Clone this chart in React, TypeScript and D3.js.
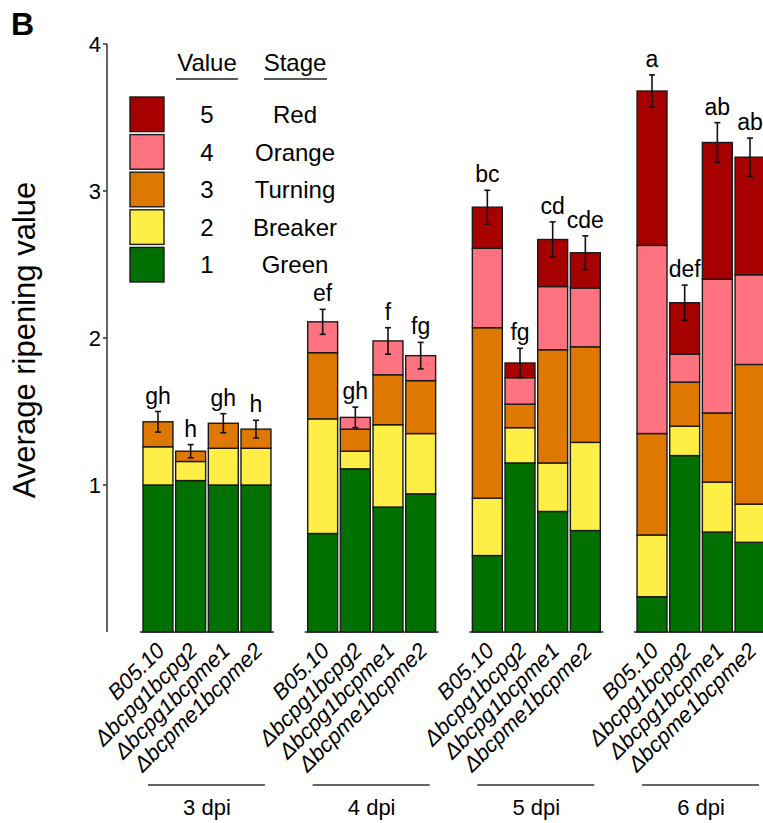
import { useEffect, useRef } from "react"
import * as d3 from "d3"

const days = ["3 dpi", "4 dpi", "5 dpi", "6 dpi"]
const strains = ["B05.10", "Δbcpg1bcpg2", "Δbcpg1bcpme1", "Δbcpme1bcpme2"]
const stages = ["Green", "Breaker", "Turning", "Orange", "Red"]
const stageValues = [1, 2, 3, 4, 5]
const stageColors = ["#007000", "#ffee45", "#df7800", "#ff7381", "#a70000"]

// share of each stage per bar, order: days x strains
const green = [1.0, 1.03, 1.0, 1.0, 0.67, 1.11, 0.85, 0.94, 0.52, 1.15, 0.82, 0.69, 0.24, 1.2, 0.68, 0.61]
const breaker = [0.26, 0.13, 0.25, 0.25, 0.78, 0.12, 0.56, 0.41, 0.39, 0.24, 0.33, 0.6, 0.42, 0.2, 0.34, 0.26]
const turning = [0.17, 0.07, 0.17, 0.13, 0.45, 0.15, 0.34, 0.36, 1.16, 0.16, 0.77, 0.65, 0.69, 0.3, 0.47, 0.95]
const orange = [0, 0, 0, 0, 0.21, 0.08, 0.23, 0.17, 0.54, 0.18, 0.43, 0.4, 1.28, 0.19, 0.91, 0.61]
const red = [0, 0, 0, 0, 0, 0, 0, 0, 0.28, 0.1, 0.32, 0.24, 1.05, 0.35, 0.93, 0.8]
const errors = [0.07, 0.045, 0.065, 0.06, 0.085, 0.07, 0.09, 0.09, 0.115, 0.1, 0.12, 0.115, 0.11, 0.12, 0.135, 0.13]
const letters = ["gh", "h", "gh", "h", "ef", "gh", "f", "fg", "bc", "fg", "cd", "cde", "a", "def", "ab", "ab"]
const yTicks = [1, 2, 3, 4]

const W = 763
const H = 823
const FONT = "'Liberation Sans', Arial, sans-serif"

export default function App() {
  const svgRef = useRef<SVGSVGElement>(null)

  useEffect(() => {
    const svg = d3.select(svgRef.current)
    svg.selectAll("*").remove()

    const y = d3.scaleLinear().domain([0, 4]).range([632, 44])
    const xg = d3.scaleBand().domain(days).range([143, 765]).paddingInner(0.223)
    const xs = d3.scaleBand().domain(strains).range([0, xg.bandwidth()]).paddingInner(0.083)

    const rows = days.flatMap((d, gi) =>
      strains.map((s, si) => {
        const i = gi * strains.length + si
        return {
          day: d, strain: s, i,
          Green: green[i], Breaker: breaker[i], Turning: turning[i], Orange: orange[i], Red: red[i],
        }
      })
    )
    const series = d3.stack<any>().keys(stages)(rows)
    const bx = (r: any) => (xg(r.day) ?? 0) + (xs(r.strain) ?? 0)

    // title
    svg.append("text").attr("x", 11).attr("y", 35).attr("font-size", 32).attr("font-weight", "bold")
      .attr("font-family", FONT).text("B")

    // y axis
    const ax = svg.append("g")
    ax.append("line").attr("x1", 107).attr("x2", 107).attr("y1", y(4)).attr("y2", y(0))
      .attr("stroke", "#333").attr("stroke-width", 1.5)
    ax.selectAll(".tk").data(yTicks).join("line")
      .attr("x1", 103).attr("x2", 107).attr("y1", (d) => y(d)).attr("y2", (d) => y(d))
      .attr("stroke", "#333").attr("stroke-width", 1.5)
    ax.selectAll(".tl").data(yTicks).join("text")
      .attr("x", 101).attr("y", (d) => y(d)).attr("dy", "0.36em").attr("text-anchor", "end")
      .attr("font-size", 22).attr("font-family", FONT).text((d) => d)
    svg.append("text").attr("transform", "translate(35,340) rotate(-90)")
      .attr("text-anchor", "middle").attr("font-size", 31).attr("font-family", FONT)
      .text("Average ripening value")

    // bars
    const bars = svg.append("g")
    series.forEach((s, k) => {
      bars.append("g").selectAll("rect").data(s.filter((d) => d[1] - d[0] > 0)).join("rect")
        .attr("x", (d) => bx(d.data))
        .attr("width", xs.bandwidth())
        .attr("y", (d) => y(d[1]))
        .attr("height", (d) => y(d[0]) - y(d[1]))
        .attr("fill", stageColors[k])
        .attr("stroke", "#1a1a1a").attr("stroke-width", 1.4)
    })

    // baselines under each group
    svg.append("g").selectAll("line").data(days).join("line")
      .attr("x1", (d) => (xg(d) ?? 0) - 3).attr("x2", (d) => (xg(d) ?? 0) + xg.bandwidth() + 3)
      .attr("y1", y(0)).attr("y2", y(0)).attr("stroke", "#222").attr("stroke-width", 1.6)

    // error bars and letters
    const tops = series[series.length - 1]
    const eg = svg.append("g")
    tops.forEach((d) => {
      const r = d.data
      const cx = bx(r) + xs.bandwidth() / 2
      const e = errors[r.i]
      eg.append("line").attr("x1", cx).attr("x2", cx).attr("y1", y(d[1] + e)).attr("y2", y(d[1] - e))
        .attr("stroke", "#111").attr("stroke-width", 1.6)
      ;[d[1] + e, d[1] - e].forEach((v) =>
        eg.append("line").attr("x1", cx - 3).attr("x2", cx + 3).attr("y1", y(v)).attr("y2", y(v))
          .attr("stroke", "#111").attr("stroke-width", 1.6))
      eg.append("text").attr("x", cx).attr("y", y(d[1] + e) - 8).attr("text-anchor", "middle")
        .attr("font-size", 23).attr("font-family", FONT).text(letters[r.i])
    })

    // rotated strain labels
    svg.append("g").selectAll("text").data(rows).join("text")
      .attr("transform", (r) => `translate(${bx(r) + xs.bandwidth() / 2 + 8},652) rotate(-45)`)
      .attr("text-anchor", "end").attr("font-size", 22).attr("font-style", "italic")
      .attr("font-family", FONT).text((r) => r.strain)

    // day groups
    const dg = svg.append("g")
    dg.selectAll("line").data(days).join("line")
      .attr("x1", (d) => (xg(d) ?? 0) + 5).attr("x2", (d) => (xg(d) ?? 0) + xg.bandwidth() - 6)
      .attr("y1", 785).attr("y2", 785).attr("stroke", "#333").attr("stroke-width", 1.5)
    dg.selectAll("text").data(days).join("text")
      .attr("x", (d) => (xg(d) ?? 0) + xg.bandwidth() / 2).attr("y", 815)
      .attr("text-anchor", "middle").attr("font-size", 22).attr("font-family", FONT).text((d) => d)

    // legend
    const lg = svg.append("g").attr("font-family", FONT).attr("font-size", 24)
    lg.append("text").attr("x", 207).attr("y", 71).attr("text-anchor", "middle").text("Value")
    lg.append("text").attr("x", 295).attr("y", 71).attr("text-anchor", "middle").text("Stage")
    lg.append("line").attr("x1", 176).attr("x2", 238).attr("y1", 79).attr("y2", 79).attr("stroke", "#222").attr("stroke-width", 1.5)
    lg.append("line").attr("x1", 264).attr("x2", 327).attr("y1", 79).attr("y2", 79).attr("stroke", "#222").attr("stroke-width", 1.5)
    const order = d3.range(stages.length).reverse()
    const ly = d3.scaleBand<number>().domain(order).range([97, 282]).paddingInner(0.08)
    order.forEach((k) => {
      const yy = ly(k) ?? 0
      lg.append("rect").attr("x", 130).attr("y", yy).attr("width", 34).attr("height", ly.bandwidth())
        .attr("fill", stageColors[k]).attr("stroke", "#1a1a1a").attr("stroke-width", 1.4)
      lg.append("text").attr("x", 207).attr("y", yy + ly.bandwidth() / 2).attr("dy", "0.36em")
        .attr("text-anchor", "middle").text(stageValues[k])
      lg.append("text").attr("x", 295).attr("y", yy + ly.bandwidth() / 2).attr("dy", "0.36em")
        .attr("text-anchor", "middle").text(stages[k])
    })
  }, [])

  return (
    <svg ref={svgRef} width={W} height={H} style={{ position: "absolute", left: 0, top: 0, background: "#fff" }} />
  )
}
